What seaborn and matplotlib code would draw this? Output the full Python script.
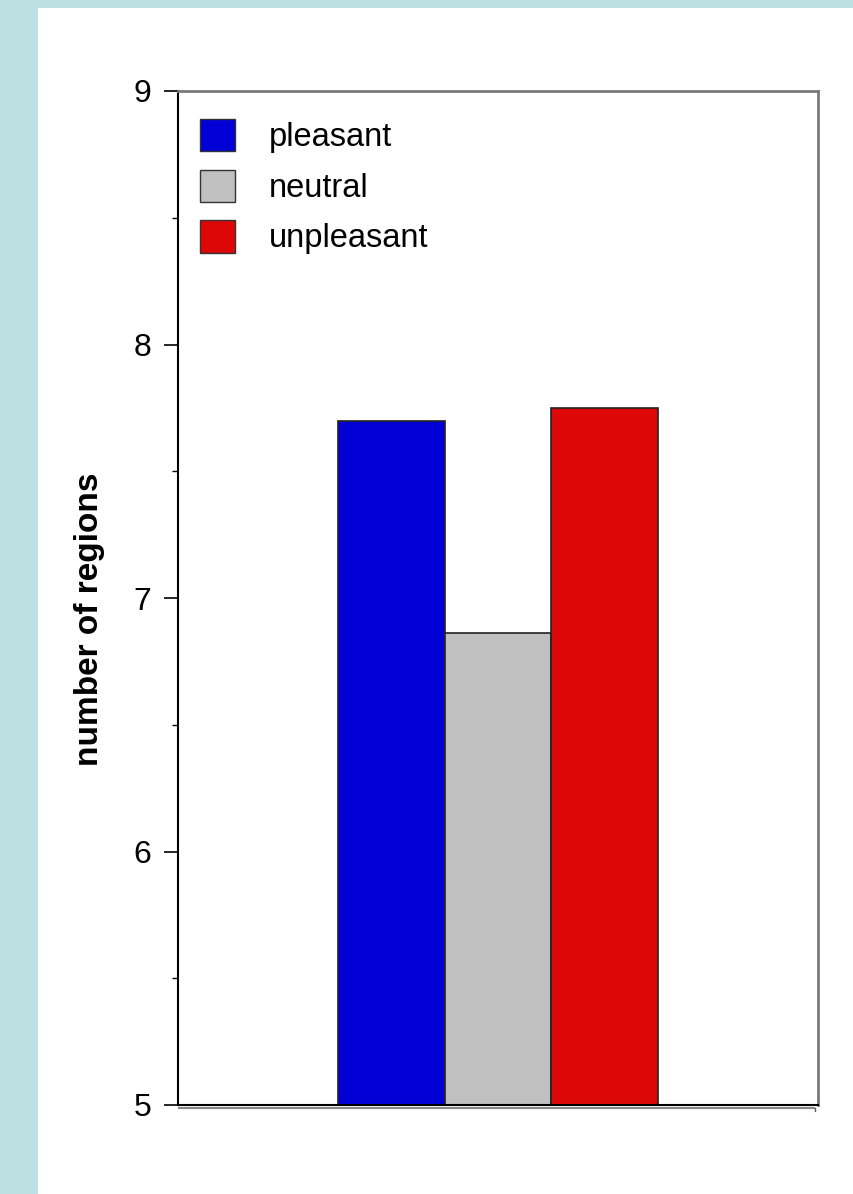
import matplotlib
matplotlib.use("Agg")
import matplotlib.pyplot as plt
import matplotlib.patches as mpatches
import seaborn as sns
import pandas as pd

# Mean number of activated regions per picture valence
conditions = ["pleasant", "neutral", "unpleasant"]
regions = [7.70, 6.86, 7.75]
bar_colors = ["#0000D6", "#C0C0C0", "#DE0707"]
y_ticks = [5, 6, 7, 8, 9]

df = pd.DataFrame({"group": [""] * len(conditions),
                   "condition": conditions,
                   "regions": regions})

sns.set_style("white")
plt.rcParams["font.family"] = ["Liberation Sans", "DejaVu Sans"]
plt.rcParams["text.color"] = "black"
plt.rcParams["ytick.color"] = "black"
plt.rcParams["axes.labelcolor"] = "black"

fig = plt.figure(figsize=(8.54, 11.94), dpi=100, facecolor="#BDE0E3")
# white slide panel
fig.patches.append(mpatches.Rectangle((38 / 854, 0), 1 - 38 / 854, 1 - 8 / 1194,
                                      transform=fig.transFigure,
                                      facecolor="white", edgecolor="none", zorder=-10))

ax = fig.add_axes([178 / 854, 89 / 1194, 640 / 854, 1014 / 1194])
ax.set_facecolor("white")
ax.set_zorder(5)

sns.barplot(data=df, x="group", y="regions", hue="condition",
            hue_order=conditions, palette=bar_colors, width=0.5,
            edgecolor="#222222", linewidth=1.2, saturation=1,
            errorbar=None, ax=ax, legend=True)

ax.set_ylim(5, 9)
ax.set_xlim(-0.5, 0.5)
ax.set_yticks(y_ticks)
ax.set_yticklabels([str(t) for t in y_ticks], fontsize=23, color="black")
ax.set_yticks([5.5, 6.5, 7.5, 8.5], minor=True)
ax.tick_params(axis="y", which="major", direction="out", length=10, width=1.2,
               color="black", pad=9, left=True)
ax.tick_params(axis="y", which="minor", direction="out", length=4, width=1,
               color="black", left=True)
ax.set_xticks([])
ax.set_xlabel("")
ax.set_ylabel("")

for side in ["left", "bottom"]:
    ax.spines[side].set_color("black")
    ax.spines[side].set_linewidth(1.5)
for side in ["top", "right"]:
    ax.spines[side].set_color("#7A7A7A")
    ax.spines[side].set_linewidth(2)

# floor line under the plot area
ax.plot([0, 0.996], [-0.003, -0.003], transform=ax.transAxes, color="#888888",
        lw=1.5, clip_on=False, solid_capstyle="butt")
ax.plot([0.996, 0.996], [-0.003, -0.006], transform=ax.transAxes, color="#555555",
        lw=1, clip_on=False)

fig.text(90 / 854, 1 - 619 / 1194, "number of regions", rotation=90,
         ha="center", va="center", fontsize=24, fontweight="bold", color="black")

leg = ax.legend(loc="upper left", frameon=False, fontsize=23.5,
                handlelength=1.06, handleheight=1.15, handletextpad=1.05,
                labelspacing=0.5, borderaxespad=0.0, borderpad=0.0,
                bbox_to_anchor=(22 / 640, 1 - 28 / 1014))
for h in leg.legend_handles:
    h.set_edgecolor("#333333")
    h.set_linewidth(1)
for t in leg.get_texts():
    t.set_color("black")

fig.savefig("out.png", dpi=100, facecolor=fig.get_facecolor())
